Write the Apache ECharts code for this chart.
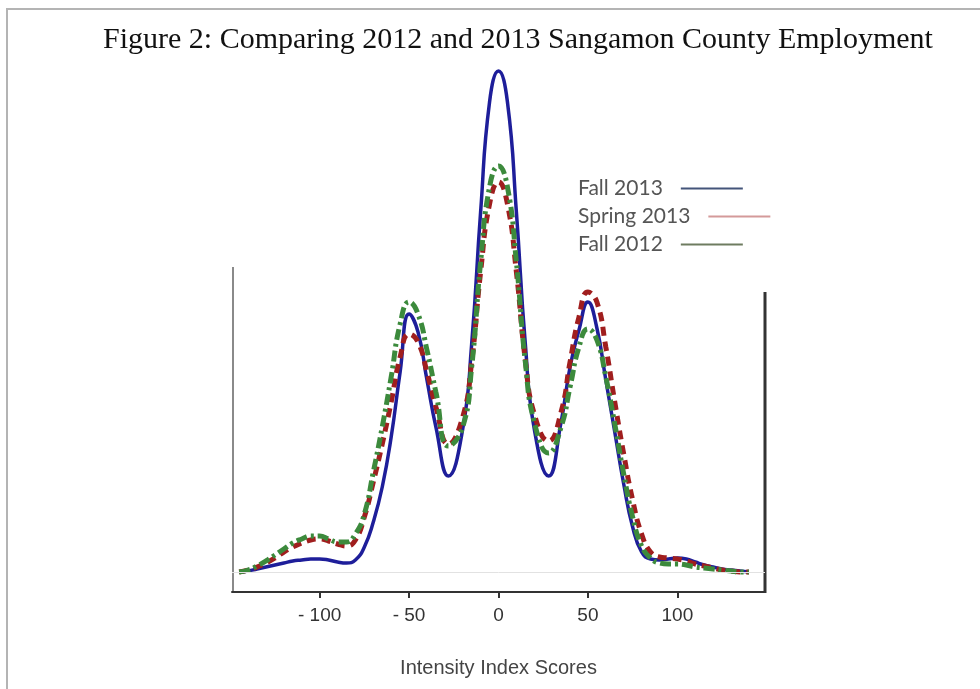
<!DOCTYPE html>
<html>
<head>
<meta charset="utf-8">
<title>Figure 2</title>
<script src="https://cdn.jsdelivr.net/npm/echarts@6/dist/echarts.min.js"></script>
<style>
  html, body { margin: 0; padding: 0; background: #fff; }
  #chart { width: 980px; height: 689px; }
</style>
</head>
<body>
<div id="chart"></div>
<script>
  // Intensity Index Scores (x) and density heights;
  // the two troughs are sampled where they sit (-28 and 28)
  const scores = [-145, -140, -135, -130, -125, -120, -115, -110, -105, -100,
    -95, -90, -85, -80, -75, -70, -65, -60, -55, -50,
    -45, -40, -35, -28, -20, -15, -10, -5, 0, 5,
    10, 15, 20, 28, 35, 40, 45, 50, 55, 60,
    65, 70, 75, 80, 85, 90, 95, 100, 105, 110,
    115, 120, 125, 130, 135, 140];
  const fall2013 = [0, 1, 3, 5, 7, 9, 11, 12, 13, 13,
    12, 10, 9, 12, 25, 50, 85, 135, 200, 258,
    240, 192, 145, 96, 143, 228, 360, 470, 501, 470,
    360, 228, 143, 96, 150, 205, 242, 270, 244, 192,
    140, 88, 45, 20, 13, 12, 13, 14, 13, 10,
    7, 5, 3, 2, 1, 0];
  const spring2013 = [0, 2, 5, 9, 14, 20, 25, 29, 32, 33,
    31, 28, 26, 32, 55, 90, 128, 170, 215, 238,
    230, 200, 165, 128, 155, 210, 300, 368, 390, 368,
    300, 212, 158, 131, 160, 210, 255, 280, 270, 225,
    170, 118, 72, 38, 20, 15, 14, 13, 11, 8,
    6, 4, 2, 1, 0, 0];
  const fall2012 = [0, 2, 6, 11, 17, 23, 29, 33, 36, 36,
    33, 30, 30, 38, 58, 100, 145, 195, 248, 270,
    258, 222, 180, 126, 145, 205, 310, 385, 406, 385,
    310, 210, 150, 119, 145, 185, 225, 243, 232, 195,
    148, 98, 55, 26, 14, 9, 8, 8, 7, 5,
    4, 3, 2, 1, 0, 0];
  const tickValues = [-100, -50, 0, 50, 100];
  const seriesNames = ['Fall 2013', 'Spring 2013', 'Fall 2012'];
  const legendColors = ['#44557a', '#d49a9a', '#6e7c60'];

  const chart = echarts.init(document.getElementById('chart'));

  function pairs(ys) {
    return scores.map((x, i) => [x, ys[i]]);
  }

  // one legend per entry so each line sample sits right after its own text
  const legends = seriesNames.map((name, i) => ({
    orient: 'vertical',
    left: 573,
    top: 173 + i * 28,
    align: 'right',
    icon: 'rect',
    itemWidth: 62,
    itemHeight: 2,
    textStyle: {
      fontFamily: 'Lato',
      fontSize: 21,
      color: '#555',
      padding: [0, 13, 0, 0]
    },
    data: [{ name: name, itemStyle: { color: legendColors[i] } }]
  }));

  chart.setOption({
    backgroundColor: '#fff',
    animation: false,
    title: {
      text: 'Figure 2: Comparing 2012 and 2013 Sangamon County Employment',
      left: 98,
      top: 20,
      textStyle: {
        fontFamily: 'Liberation Serif',
        fontWeight: 'normal',
        fontSize: 30,
        color: '#111'
      }
    },
    legend: legends,
    grid: {
      left: 232,
      right: 215,
      top: 52,
      bottom: 97,
      containLabel: false
    },
    xAxis: {
      type: 'value',
      min: -149,
      max: 149,
      name: 'Intensity Index Scores',
      nameLocation: 'middle',
      nameGap: 66,
      nameTextStyle: {
        fontFamily: 'Liberation Sans',
        fontSize: 20,
        color: '#444'
      },
      axisLine: { onZero: false, lineStyle: { color: '#333', width: 2 } },
      axisTick: {
        customValues: tickValues,
        length: 6,
        lineStyle: { color: '#333', width: 2 }
      },
      axisLabel: {
        customValues: tickValues,
        margin: 14,
        fontFamily: 'Liberation Sans',
        fontSize: 19,
        color: '#333',
        formatter: function (v) {
          return v < 0 ? '- ' + Math.abs(v) : String(v);
        }
      },
      splitLine: { show: false }
    },
    yAxis: {
      type: 'value',
      min: -20,
      max: 520,
      show: false
    },
    series: [
      {
        name: seriesNames[0],
        type: 'line',
        smooth: 0.5,
        showSymbol: false,
        data: pairs(fall2013),
        lineStyle: { color: '#1e1e9a', width: 3.5 },
        itemStyle: { color: '#1e1e9a' },
        markLine: {
          silent: true,
          symbol: 'none',
          label: { show: false },
          lineStyle: { color: '#e2e2e2', width: 1, type: 'solid' },
          data: [{ yAxis: 0 }]
        }
      },
      {
        name: seriesNames[1],
        type: 'line',
        smooth: 0.5,
        showSymbol: false,
        data: pairs(spring2013),
        lineStyle: { color: '#a01e1e', width: 5, type: [9, 6], cap: 'butt' },
        itemStyle: { color: '#a01e1e' }
      },
      {
        name: seriesNames[2],
        type: 'line',
        smooth: 0.5,
        showSymbol: false,
        data: pairs(fall2012),
        lineStyle: { color: '#3c8a3c', width: 5, type: [11, 4, 3, 4], cap: 'butt' },
        itemStyle: { color: '#3c8a3c' }
      }
    ],
    graphic: [
      // page border
      {
        type: 'polyline',
        silent: true,
        shape: { points: [[7, 689], [7, 9], [980, 9]] },
        style: { stroke: '#b4b4b4', lineWidth: 2, fill: null }
      },
      // left frame edge
      {
        type: 'line',
        silent: true,
        shape: { x1: 233, y1: 267, x2: 233, y2: 592 },
        style: { stroke: '#8a8a8a', lineWidth: 2 }
      },
      // right frame edge
      {
        type: 'line',
        silent: true,
        shape: { x1: 765, y1: 292, x2: 765, y2: 593 },
        style: { stroke: '#333', lineWidth: 3 }
      }
    ]
  });
</script>
</body>
</html>
